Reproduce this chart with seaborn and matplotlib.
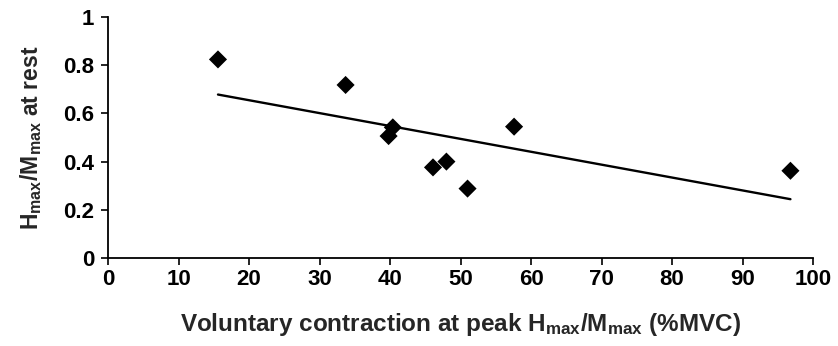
import matplotlib
matplotlib.use("Agg")
import matplotlib.pyplot as plt
import seaborn as sns
import pandas as pd
import numpy as np

# Data
contraction = [15.6, 33.7, 40.4, 39.8, 46.1, 48.0, 51.0, 57.6, 96.8]
h_m_ratio = [0.824, 0.718, 0.542, 0.506, 0.376, 0.400, 0.288, 0.545, 0.362]
x_ticks = [0, 10, 20, 30, 40, 50, 60, 70, 80, 90, 100]
y_ticks = [0, 0.2, 0.4, 0.6, 0.8, 1.0]
y_tick_labels = ["0", "0.2", "0.4", "0.6", "0.8", "1"]

df = pd.DataFrame({"x": contraction, "y": h_m_ratio})

sns.set_style("ticks")
plt.rcParams["font.family"] = ["Liberation Sans", "DejaVu Sans"]
plt.rcParams["font.weight"] = "bold"
plt.rcParams["mathtext.fontset"] = "custom"
plt.rcParams["mathtext.rm"] = "Liberation Sans:bold"
plt.rcParams["mathtext.it"] = "Liberation Sans:bold"
plt.rcParams["mathtext.bf"] = "Liberation Sans:bold"

fig = plt.figure(figsize=(8.38, 3.46), dpi=100)
ax = fig.add_axes([108/838, (346-258)/346, 705/838, 241/346])

sns.regplot(data=df, x="x", y="y", ax=ax, ci=None, truncate=True,
            marker="D",
            scatter_kws={"s": 85, "color": "black", "alpha": 1.0,
                         "edgecolors": "none", "zorder": 3},
            line_kws={"color": "black", "linewidth": 1.7})

ax.set_xlim(0, 100)
ax.set_ylim(0, 1)
ax.set_xticks(x_ticks)
ax.set_xticklabels([str(t) for t in x_ticks])
ax.set_yticks(y_ticks)
ax.set_yticklabels(y_tick_labels)
ax.tick_params(axis="both", direction="out", length=5, width=1.2, colors="black",
               labelsize=16, pad=5)
ax.tick_params(axis="x", pad=3)
for lab in ax.get_xticklabels() + ax.get_yticklabels():
    lab.set_fontweight("bold")

for s in ["top", "right"]:
    ax.spines[s].set_visible(False)
for s in ["left", "bottom"]:
    ax.spines[s].set_linewidth(1.3)
    ax.spines[s].set_color("black")

ax.set_xlabel(r"Voluntary contraction at peak H$_{\mathrm{max}}$/M$_{\mathrm{max}}$ (%MVC)",
              fontsize=17.5, fontweight="bold", labelpad=15)
ax.set_ylabel(r"H$_{\mathrm{max}}$/M$_{\mathrm{max}}$ at rest",
              fontsize=16.5, fontweight="bold", labelpad=14)

fig.savefig("out.png", dpi=100, facecolor="white")
